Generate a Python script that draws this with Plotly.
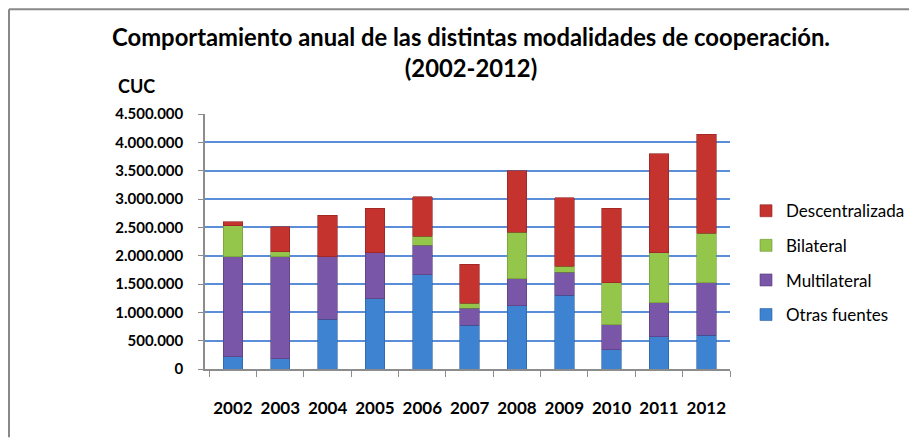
import plotly.graph_objects as go

years = ["2002", "2003", "2004", "2005", "2006", "2007", "2008", "2009", "2010", "2011", "2012"]
otras_fuentes = [215000, 180000, 880000, 1240000, 1660000, 770000, 1120000, 1300000, 340000, 570000, 600000]
multilateral = [1770000, 1800000, 1100000, 810000, 520000, 300000, 470000, 410000, 440000, 600000, 920000]
bilateral = [545000, 90000, 0, 0, 160000, 90000, 820000, 100000, 740000, 880000, 880000]
descentralizada = [70000, 440000, 730000, 790000, 700000, 690000, 1090000, 1210000, 1320000, 1750000, 1740000]

tick_vals = [0, 500000, 1000000, 1500000, 2000000, 2500000, 3000000, 3500000, 4000000, 4500000]
tick_text = ["0", "500.000", "1.000.000", "1.500.000", "2.000.000", "2.500.000",
             "3.000.000", "3.500.000", "4.000.000", "4.500.000"]

series = [
    ("Otras fuentes", otras_fuentes, "#3E83D2", "#2A5F9E", 4),
    ("Multilateral", multilateral, "#7A56A8", "#553A7A", 3),
    ("Bilateral", bilateral, "#93C64B", "#6C9432", 2),
    ("Descentralizada", descentralizada, "#C5332E", "#8E2220", 1),
]

FONT = "Lato"

# figure is placed 8px inside the page (default body margin)
W, H = 909, 430
L, R, T, B = 197, 187, 106, 68.5
PW, PH = W - L - R, H - T - B


def px(fx):
    return (fx - L) / PW


def py(fy):
    return (H - B - fy) / PH


fig = go.Figure()
for name, vals, col, edge, rank in series:
    fig.add_trace(go.Bar(
        x=years, y=vals, name=name, legendgroup=name, legendrank=rank,
        marker=dict(color=col, line=dict(color=edge, width=0.6)),
    ))

fig.update_layout(
    width=W, height=H,
    margin=dict(l=L, r=R, t=T, b=B, autoexpand=False),
    barmode="stack", bargap=0.59,
    paper_bgcolor="white", plot_bgcolor="white",
    font=dict(family=FONT, color="black"),
    title=dict(
        text="Comportamiento anual de las distintas modalidades de cooperación.<br>(2002-2012)",
        font=dict(family=FONT, size=23.8, color="black", weight="bold"),
        xref="container", x=463 / W, xanchor="center",
        yref="container", y=1 - 38 / H, yanchor="top",
    ),
    showlegend=True,
    legend=dict(
        x=px(738), xanchor="left", y=py(255), yanchor="middle",
        traceorder="grouped", tracegroupgap=9.5,
        font=dict(family=FONT, size=17, color="black"),
        itemwidth=30, bgcolor="rgba(0,0,0,0)",
    ),
    xaxis=dict(
        type="category", range=[-0.59, 10.5],
        showline=True, linecolor="#8C8C8C", linewidth=1.5,
        ticks="outside", tickson="boundaries", ticklen=6, tickcolor="#8C8C8C",
        tickfont=dict(family=FONT, size=17, color="black", weight="bold"),
        tickangle=0, ticklabelstandoff=23, showgrid=False,
    ),
    yaxis=dict(
        range=[0, 4500000], tickvals=tick_vals, ticktext=tick_text,
        showline=True, linecolor="#8C8C8C", linewidth=1.5,
        ticks="outside", ticklen=5, tickcolor="#8C8C8C",
        tickfont=dict(family=FONT, size=15, color="black", weight="bold"),
        ticklabelstandoff=12,
        showgrid=True, gridcolor="#5B8ED8", gridwidth=1.6, zeroline=False,
    ),
    annotations=[
        dict(text="CUC", xref="paper", yref="paper", x=px(128.5), y=py(78),
             xanchor="center", yanchor="middle", showarrow=False,
             font=dict(family=FONT, size=18, color="black", weight="bold")),
    ],
    shapes=[
        dict(type="line", xref="paper", yref="paper",
             x0=px(1), x1=px(1), y0=py(H), y1=py(1),
             line=dict(color="#888888", width=2)),
        dict(type="line", xref="paper", yref="paper",
             x0=px(1), x1=px(W), y0=py(1), y1=py(1),
             line=dict(color="#888888", width=2)),
    ],
)

fig.write_html("out.html")
